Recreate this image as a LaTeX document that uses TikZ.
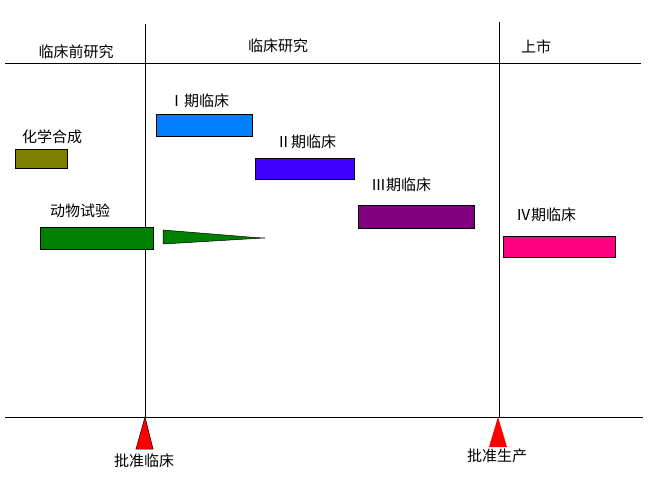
\documentclass[tikz,border=0pt]{standalone}
\usepackage{fontspec}
\newfontfamily\cjk{Noto Sans CJK SC}
\definecolor{olivebar}{RGB}{128,128,0}
\definecolor{greenbar}{RGB}{0,128,0}
\definecolor{bluebar}{RGB}{0,128,255}
\definecolor{violetbar}{RGB}{64,0,255}
\definecolor{purplebar}{RGB}{128,0,128}
\definecolor{pinkbar}{RGB}{255,0,128}
\definecolor{redmark}{RGB}{255,0,0}
\begin{document}
\begin{tikzpicture}[x=1pt,y=-1pt,
  lbl/.style={font=\cjk\fontsize{15}{17}\selectfont, inner sep=0pt},
  bar/.style={draw=black, line width=0.8pt},
  axis/.style={draw=black, line width=0.8pt},
  marker/.style={fill=redmark, draw=none}]
\useasboundingbox (0,0) rectangle (652,476);
% axis lines
\coordinate (v1t) at (145,24);
\coordinate (v1b) at (145,417);
\coordinate (v2t) at (499,22);
\coordinate (v2b) at (499,417);
\coordinate (htl) at (5,63);
\coordinate (htr) at (641,63);
\coordinate (hbl) at (5,417);
\coordinate (hbr) at (643,417);
\draw[axis] (v1t) -- (v1b);
\draw[axis] (v2t) -- (v2b);
\draw[axis] (htl) -- (htr);
\draw[axis] (hbl) -- (hbr);
% header labels
\node[lbl] (pre) at (76,52) {临床前研究};
\node[lbl] (clin) at (278,46) {临床研究};
\node[lbl] (mkt) at (536,47) {上市};
% bars
\node[lbl] (chemL) at (52,137) {化学合成};
\filldraw[bar, fill=olivebar] (15,149) rectangle (67,168);
\node[lbl] (animL) at (80,211) {动物试验};
\filldraw[bar, fill=greenbar] (40,227) rectangle (153,249);
\filldraw[fill=greenbar, draw=black, line width=0.5pt] (163,230) -- (255,237.5) -- (265,238) -- (255,238.5) -- (163,244) -- cycle;
\node[lbl] (p1L) at (199,101) {Ⅰ期临床};
\filldraw[bar, fill=bluebar] (156,114) rectangle (252,136);
\node[lbl] (p2L) at (306,142) {Ⅱ期临床};
\filldraw[bar, fill=violetbar] (255,158) rectangle (354,179);
\node[lbl] (p3L) at (401,185) {Ⅲ期临床};
\filldraw[bar, fill=purplebar] (358,205) rectangle (474,228);
\node[lbl] (p4L) at (546,215) {Ⅳ期临床};
\filldraw[bar, fill=pinkbar] (503,236) rectangle (615,257);
% markers
\filldraw[fill=redmark, draw=black, line width=0.5pt] (145,417) -- (153,449) -- (136,449) -- cycle;
\fill[marker] (498,417) -- (507,447) -- (489,447) -- cycle;
\node[lbl] (appC) at (144,461) {批准临床};
\node[lbl] (appP) at (497,456) {批准生产};
\end{tikzpicture}
\end{document}
